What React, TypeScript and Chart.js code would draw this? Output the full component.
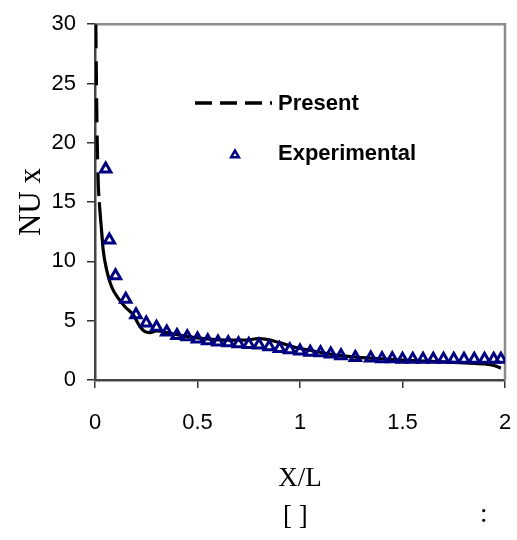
import React, { useEffect, useRef } from "react";
import { Chart, registerables } from "chart.js";

Chart.register(...registerables);

const presentX = [0.004, 0.007, 0.011, 0.016, 0.021, 0.033, 0.04, 0.057, 0.081, 0.114, 0.146, 0.187, 0.22, 0.244, 0.268, 0.3, 0.366, 0.48, 0.64, 0.74, 0.797, 0.837, 0.9, 0.967, 1.04, 1.2, 1.5, 1.8, 1.9, 1.95, 1.98];
const presentY = [30, 25, 20, 16.5, 15, 12.4, 10.95, 9.27, 7.86, 6.88, 6.18, 5.48, 4.49, 4.07, 3.99, 4.13, 3.93, 3.6, 3.37, 3.37, 3.5, 3.42, 3.15, 2.8, 2.53, 2.05, 1.68, 1.45, 1.35, 1.2, 1.0];

const expX = [0.052, 0.07, 0.1, 0.15, 0.2, 0.25, 0.3, 0.35, 0.4, 0.45, 0.5, 0.55, 0.6, 0.65, 0.7, 0.75, 0.8, 0.85, 0.9, 0.95, 1.0, 1.05, 1.1, 1.15, 1.2, 1.27, 1.345, 1.4, 1.45, 1.5, 1.55, 1.6, 1.65, 1.7, 1.75, 1.8, 1.85, 1.9, 1.945, 1.98];
const expY = [17.8, 11.8, 8.8, 6.8, 5.5, 4.8, 4.45, 4.05, 3.75, 3.65, 3.45, 3.3, 3.2, 3.15, 3.05, 3.0, 2.95, 2.8, 2.65, 2.55, 2.45, 2.35, 2.3, 2.2, 2.05, 1.9, 1.85, 1.8, 1.8, 1.75, 1.75, 1.75, 1.75, 1.75, 1.75, 1.75, 1.75, 1.75, 1.75, 1.75];

const xTicks = [0, 0.5, 1, 1.5, 2];
const yTicks = [0, 5, 10, 15, 20, 25, 30];

const SANS = "'Liberation Sans', Arial, sans-serif";
const SERIF = "'Liberation Serif', 'Times New Roman', serif";

export default function App() {
  const ref = useRef<HTMLCanvasElement>(null);

  useEffect(() => {
    if (!ref.current) return;

    const framePlugin = {
      id: "frame",
      beforeDatasetsDraw(chart: any) {
        const { ctx, chartArea } = chart;
        ctx.save();
        ctx.strokeStyle = "#8c8c8c";
        ctx.lineWidth = 2.5;
        ctx.beginPath();
        ctx.moveTo(chartArea.left, chartArea.top);
        ctx.lineTo(chartArea.right, chartArea.top);
        ctx.lineTo(chartArea.right, chartArea.bottom);
        ctx.stroke();
        ctx.restore();
      },
    };

    const legendPlugin = {
      id: "customLegend",
      afterDraw(chart: any) {
        const { ctx } = chart;
        const ds0 = chart.data.datasets[0];
        const ds1 = chart.data.datasets[1];
        ctx.save();
        ctx.strokeStyle = ds0.borderColor;
        ctx.lineWidth = 3.5;
        ctx.setLineDash([17, 8]);
        ctx.beginPath();
        ctx.moveTo(195, 103);
        ctx.lineTo(272, 103);
        ctx.stroke();
        ctx.setLineDash([]);
        ctx.fillStyle = "#000";
        ctx.font = `bold 22px ${SANS}`;
        ctx.textBaseline = "middle";
        ctx.textAlign = "left";
        ctx.fillText(ds0.label, 278, 104);
        ctx.fillText(ds1.label, 278, 154);
        const r = 4.5;
        const cx = 235, cy = 155;
        ctx.strokeStyle = ds1.pointBorderColor;
        ctx.lineWidth = 2.5;
        ctx.beginPath();
        for (let i = 0; i < 3; i++) {
          const a = (i * 2 * Math.PI) / 3;
          const px = cx + Math.sin(a) * r;
          const py = cy - Math.cos(a) * r;
          if (i === 0) ctx.moveTo(px, py);
          else ctx.lineTo(px, py);
        }
        ctx.closePath();
        ctx.stroke();
        ctx.restore();
      },
    };

    const chart = new Chart(ref.current, {
      type: "scatter",
      data: {
        datasets: [
          {
            label: "Present",
            data: presentX.map((x, i) => ({ x, y: presentY[i] })),
            showLine: true,
            borderColor: "#000000",
            borderWidth: 3.2,
            pointRadius: 0,
            cubicInterpolationMode: "monotone",
            segment: {
              borderDash: (c: any) => (c.p0.parsed.y > 15.5 ? [24, 13] : undefined),
            },
            order: 2,
          } as any,
          {
            label: "Experimental",
            data: expX.map((x, i) => ({ x, y: expY[i] })),
            showLine: false,
            pointStyle: "triangle",
            pointRadius: 6,
            pointBorderWidth: 3,
            pointBorderColor: "#000080",
            pointBackgroundColor: "rgba(255,255,255,0)",
            borderColor: "#000080",
            order: 1,
          } as any,
        ],
      },
      options: {
        responsive: false,
        animation: false,
        layout: { padding: { left: 0, top: 24, right: 12, bottom: 45 } },
        plugins: {
          legend: { display: false },
          tooltip: { enabled: false },
        },
        scales: {
          x: {
            type: "linear",
            min: 0,
            max: 2,
            afterBuildTicks: (s: any) => {
              s.ticks = xTicks.map((v) => ({ value: v }));
            },
            afterFit: (s: any) => {
              s.height = 115;
              s.paddingLeft = 0;
              s.paddingRight = 0;
            },
            ticks: {
              color: "#000",
              font: { family: SANS, size: 22 },
              padding: 22,
              callback: (v: any) => String(v),
            },
            grid: {
              display: true,
              drawOnChartArea: false,
              drawTicks: true,
              tickLength: 8,
              color: "#333",
              lineWidth: 1.5,
            },
            border: { display: true, color: "#444", width: 2.5 },
            title: {
              display: true,
              text: "X/L",
              color: "#000",
              font: { family: SERIF, size: 27 },
              padding: { top: 0, bottom: 0 },
            },
          },
          y: {
            type: "linear",
            min: 0,
            max: 30,
            afterBuildTicks: (s: any) => {
              s.ticks = yTicks.map((v) => ({ value: v }));
            },
            afterFit: (s: any) => {
              s.width = 95;
            },
            ticks: {
              color: "#000",
              font: { family: SANS, size: 22 },
              padding: 11,
            },
            grid: {
              display: true,
              drawOnChartArea: false,
              drawTicks: true,
              tickLength: 8,
              color: "#333",
              lineWidth: 1.5,
            },
            border: { display: true, color: "#444", width: 2.5 },
            title: {
              display: true,
              text: "NU x",
              color: "#000",
              font: { family: SERIF, size: 31 },
              padding: { top: 13, bottom: 0 },
            },
          },
        },
      },
      plugins: [framePlugin, legendPlugin],
    });

    return () => chart.destroy();
  }, []);

  return (
    <div style={{ position: "fixed", left: 0, top: 0, width: 517, height: 540, background: "#fff" }}>
      <canvas ref={ref} width={517} height={540} style={{ display: "block" }} />
      <span style={{ position: "absolute", left: 283, top: 500, fontFamily: SERIF, fontSize: 27, lineHeight: "30px", whiteSpace: "pre" }}>
        {"[ ]"}
      </span>
      <span style={{ position: "absolute", left: 480, top: 498, fontFamily: SERIF, fontSize: 27, lineHeight: "30px" }}>
        {":"}
      </span>
    </div>
  );
}
